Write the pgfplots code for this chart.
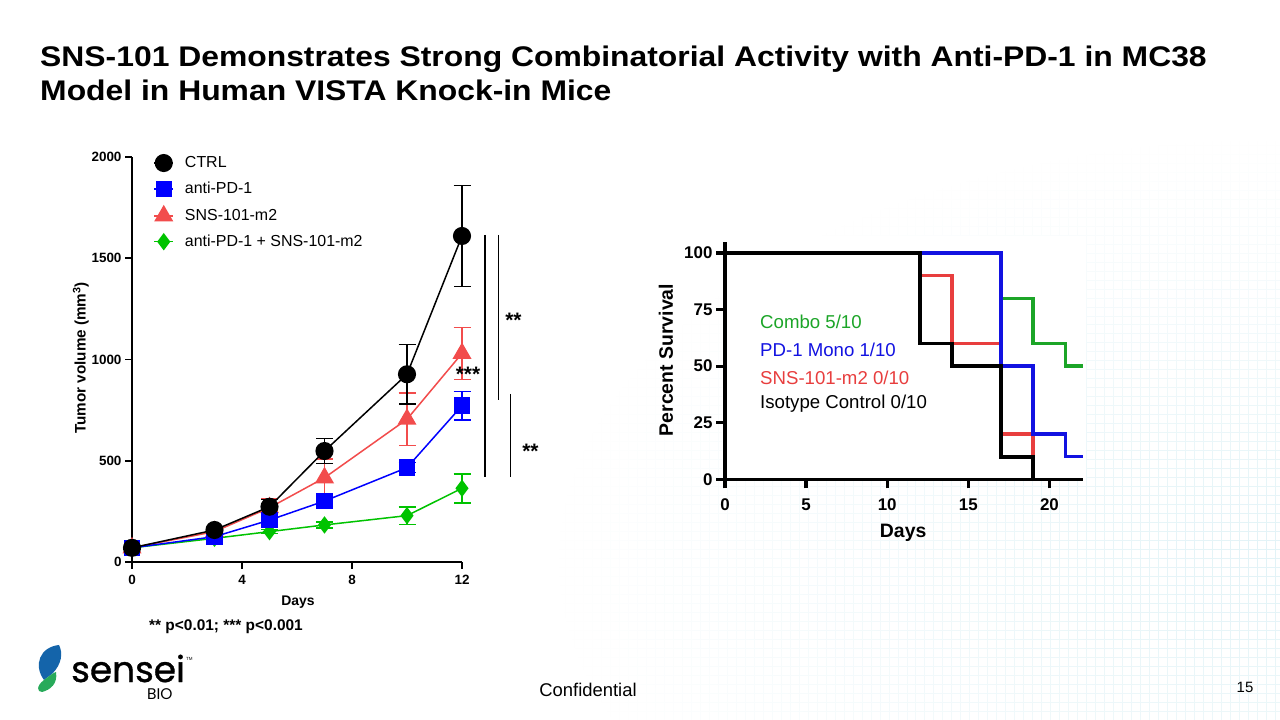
\documentclass[border=0pt]{standalone}
\usepackage{fontspec}
\setmainfont{Liberation Sans}
\newfontfamily\logofont[FakeBold=1.0]{Poppins}
\newfontfamily\logothin{Poppins}
\usepackage{pgfplots}
\pgfplotsset{compat=1.18}
\usetikzlibrary{fadings}
\tikzfading[name=fadecorner, inner color=transparent!0, outer color=transparent!100]
\definecolor{lblue}{RGB}{0,0,255}
\definecolor{lred}{RGB}{242,76,76}
\definecolor{lgreen}{RGB}{0,195,0}
\definecolor{rgreen}{RGB}{28,165,40}
\definecolor{rblue}{RGB}{18,18,225}
\definecolor{rred}{RGB}{232,62,62}
\definecolor{logoblue}{RGB}{20,100,170}
\definecolor{logogreen}{RGB}{40,170,90}
\definecolor{bggrid}{RGB}{226,243,247}
\begin{document}
\begin{tikzpicture}
\path[use as bounding box, fill=white] (0bp,0bp) rectangle (1280bp,720bp);
% faint background grid of the slide
\begin{scope}
\clip (0bp,0bp) rectangle (1280bp,720bp);
\draw[bggrid, line width=0.6bp, path fading=fadecorner] (560bp,-260bp) grid[step=9bp] (2000bp,580bp);
\end{scope}
\fill[white] (722bp,241bp) rectangle (1086bp,484bp);
% title
\node[anchor=base west, inner sep=0pt, xscale=1.122, font=\fontsize{28.5}{30}\selectfont\bfseries] at (40bp,653bp) {SNS-101 Demonstrates Strong Combinatorial Activity with Anti-PD-1 in MC38};
\node[anchor=base west, inner sep=0pt, xscale=1.122, font=\fontsize{28.5}{30}\selectfont\bfseries] at (40bp,619.5bp) {Model in Human VISTA Knock-in Mice};

% ---------------- left chart ----------------
\begin{axis}[
  at={(132bp,158bp)}, anchor=south west,
  width=330bp, height=405bp, scale only axis,
  xmin=0, xmax=12, ymin=0, ymax=2000,
  axis x line*=bottom, axis y line*=left,
  axis line style={line width=1.8bp, -},
  xtick={0,4,8,12}, ytick={0,500,1000,1500,2000},
  tick align=outside, major tick length=7bp,
  every tick/.style={black, line width=1.8bp},
  ticklabel style={font=\fontsize{13.5}{14}\selectfont\bfseries},
  xticklabel style={yshift=-3bp},
  /pgf/number format/assume math mode=true,
  /pgf/number format/1000 sep={},
  xlabel={Days}, ylabel={Tumor volume (mm\textsuperscript{3})},
  xlabel style={font=\fontsize{14}{14}\selectfont\bfseries, at={(axis description cs:0.503,-0.099)}, anchor=center},
  ylabel style={font=\fontsize{15.3}{15}\selectfont\bfseries, at={(axis description cs:-0.155,0.504)}, anchor=center},
  clip=false,
  reverse legend,
  legend cell align=left,
  legend image code/.code={\draw[mark repeat=2, mark phase=2, #1] plot coordinates {(0bp,0bp) (9.5bp,0bp) (19bp,0bp)};},
  legend style={draw=none, fill=none, at={(axis description cs:0.0555,1.011)}, anchor=north west,
    font=\fontsize{16}{16}\selectfont, row sep=9bp,
    /tikz/every odd column/.append style={column sep=9bp}},
  error bars/y dir=both, error bars/y explicit,
  error bars/error bar style={line width=1.6bp},
  error bars/error mark options={rotate=90, line width=1.6bp, mark size=8.5bp},
]
\addplot[lgreen, line width=1.5bp, mark=diamond*, mark size=7.5bp, mark options={solid}] coordinates {
 (0,70) +- (0,5) (3,117) +- (0,8) (5,150) +- (0,10) (7,183) +- (0,15) (10,229) +- (0,44) (12,364) +- (0,72)};
\addlegendentry{anti-PD-1 + SNS-101-m2}
\addplot[lred, line width=1.5bp, mark=triangle*, mark size=9.5bp, mark options={solid}] coordinates {
 (0,70) +- (0,5) (3,150) +- (0,10) (5,268) +- (0,43) (7,416) +- (0,92) (10,705) +- (0,130) (12,1030) +- (0,128)};
\addlegendentry{SNS-101-m2}
\addplot[lblue, line width=1.5bp, mark=square*, mark size=7.5bp, mark options={solid}] coordinates {
 (0,70) +- (0,5) (3,125) +- (0,8) (5,207) +- (0,20) (7,301) +- (0,25) (10,466) +- (0,25) (12,772) +- (0,70)};
\addlegendentry{anti-PD-1}
\addplot[black, line width=1.5bp, mark=*, mark size=8.3bp, mark options={solid}] coordinates {
 (0,70) +- (0,5) (3,158) +- (0,10) (5,273) +- (0,35) (7,548) +- (0,62) (10,927) +- (0,148) (12,1610) +- (0,250)};
\addlegendentry{CTRL}
% significance brackets
\draw[line width=1.6bp] (axis cs:12.84,1615) -- (axis cs:12.84,421);
\draw[line width=1.6bp] (axis cs:13.32,1615) -- (axis cs:13.32,800);
\draw[line width=1.6bp] (axis cs:13.77,830) -- (axis cs:13.77,421);
\node[font=\fontsize{21}{21}\selectfont\bfseries] at (axis cs:12.22,925) {***};
\node[font=\fontsize{21}{21}\selectfont\bfseries] at (axis cs:13.87,1195) {**};
\node[font=\fontsize{21}{21}\selectfont\bfseries] at (axis cs:14.49,548) {**};
\end{axis}
\node[anchor=center, font=\fontsize{15.5}{16}\selectfont\bfseries] at (226bp,93bp) {** p<0.01; *** p<0.001};

% ---------------- right chart ----------------
\begin{axis}[
  at={(725bp,240.7bp)}, anchor=south west,
  width=357.7bp, height=237.6bp, scale only axis,
  xmin=0, xmax=22.05, ymin=0, ymax=105,
  axis x line*=bottom, axis y line*=left,
  axis line style={line width=3.3bp, -},
  xtick={0,5,10,15,20}, ytick={0,25,50,75,100},
  tick align=outside, major tick length=9bp,
  every tick/.style={black, line width=3.3bp},
  ticklabel style={font=\fontsize{17}{17}\selectfont\bfseries},
  xticklabel style={yshift=-7bp},
  /pgf/number format/assume math mode=true,
  xlabel={Days}, ylabel={Percent Survival},
  label style={font=\fontsize{19.5}{20}\selectfont\bfseries},
  xlabel style={at={(axis description cs:0.498,-0.227)}, anchor=center},
  ylabel style={at={(axis description cs:-0.165,0.502)}, anchor=center},
  clip=false,
]
\addplot[rgreen, line width=3.5bp, line join=miter] coordinates {(0,100) (17,100) (17,80) (19,80) (19,60) (21,60) (21,50) (22.05,50)};
\addplot[rred, line width=3.5bp, line join=miter] coordinates {(0,100) (12,100) (12,90) (14,90) (14,60) (17,60) (17,20) (19,20) (19,0)};
\addplot[rblue, line width=3.5bp, line join=miter] coordinates {(0,100) (17,100) (17,50) (19,50) (19,20) (21,20) (21,10) (22.05,10)};
\addplot[black, line width=3.8bp, line join=miter] coordinates {(0,100) (12,100) (12,60) (14,60) (14,50) (17,50) (17,10) (19,10) (19,0)};
\end{axis}
\node[anchor=west, inner sep=0pt, text=rgreen, font=\fontsize{18.7}{18}\selectfont] at (760bp,398.3bp) {Combo 5/10};
\node[anchor=west, inner sep=0pt, text=rblue, font=\fontsize{18.7}{18}\selectfont] at (760bp,370bp) {PD-1 Mono 1/10};
\node[anchor=west, inner sep=0pt, text=rred, font=\fontsize{18.7}{18}\selectfont] at (760bp,341.7bp) {SNS-101-m2 0/10};
\node[anchor=west, inner sep=0pt, text=black, font=\fontsize{18.7}{18}\selectfont] at (760bp,316.7bp) {Isotype Control 0/10};

% ---------------- footer ----------------
\node[font=\fontsize{18.5}{18}\selectfont] at (588bp,30bp) {Confidential};
\node[font=\fontsize{15}{15}\selectfont] at (1245bp,33bp) {15};
% logo
\fill[logoblue] (59bp,75bp) .. controls (40bp,73bp) and (33bp,55bp) .. (44bp,40bp) -- (52bp,46bp) .. controls (62bp,56bp) and (63bp,67bp) .. (59bp,75bp) -- cycle;
\fill[logogreen] (44bp,40bp) .. controls (36bp,34bp) and (37bp,28bp) .. (42bp,28bp) .. controls (50bp,30bp) and (58bp,36bp) .. (56bp,48bp) -- (52bp,46bp) -- cycle;
\node[anchor=base west, inner sep=0pt, font=\fontsize{36}{36}\logofont] at (71bp,38bp) {sensei};
\node[anchor=base west, inner sep=0pt, font=\fontsize{15.5}{16}\logothin] at (147bp,21bp) {BIO};
\node[anchor=base west, inner sep=0pt, font=\fontsize{4.5}{5}\selectfont] at (186bp,59bp) {TM};
\end{tikzpicture}
\end{document}
